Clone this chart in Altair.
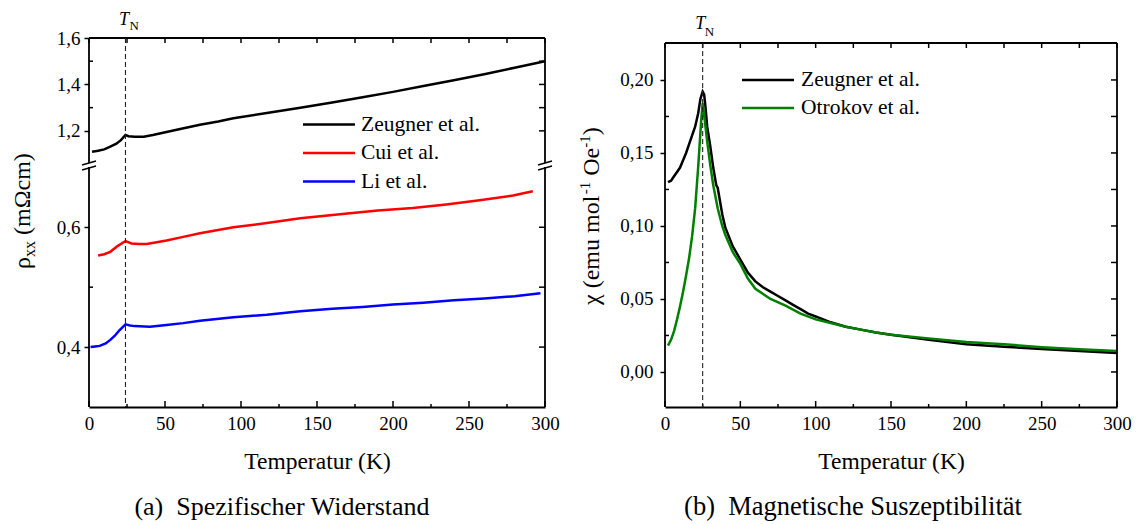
import altair as alt
import pandas as pd

# ---------------- data ----------------
# (a) resistivity rho_xx in mOhm cm vs temperature in K
zeu_rho_T = [2, 6, 10, 14, 18, 21, 24, 26, 30, 36, 42, 51, 60, 73, 85, 95, 117, 139, 160, 180, 200, 220, 240, 260, 280, 300]
zeu_rho = [1.110, 1.114, 1.120, 1.132, 1.145, 1.160, 1.182, 1.177, 1.175, 1.175, 1.182, 1.195, 1.208, 1.226, 1.240,
           1.254, 1.277, 1.300, 1.322, 1.345, 1.368, 1.393, 1.418, 1.444, 1.472, 1.500]

cui_rho_T = [6, 10, 14, 19, 24, 28, 33, 38, 51, 62, 73, 95, 117, 139, 170, 190, 213, 235, 257, 279, 292]
cui_rho = [0.553, 0.555, 0.559, 0.569, 0.577, 0.573, 0.572, 0.572, 0.578, 0.584, 0.590, 0.600, 0.607, 0.615,
           0.623, 0.628, 0.632, 0.638, 0.645, 0.653, 0.660]

li_rho_T = [1, 4, 7, 11, 14, 17, 20, 24, 27, 30, 40, 51, 62, 73, 95, 117, 139, 160, 180, 200, 220, 240, 260, 280, 297]
li_rho = [0.400, 0.401, 0.402, 0.406, 0.412, 0.419, 0.428, 0.438, 0.436, 0.435, 0.434, 0.437, 0.440, 0.444, 0.450,
          0.454, 0.460, 0.464, 0.467, 0.471, 0.474, 0.478, 0.481, 0.485, 0.490]

# (b) susceptibility chi in emu/(mol Oe) vs temperature in K
zeu_chi_T = [2, 4, 6, 8, 10, 12, 14, 16, 18, 20, 22, 23.5, 25, 26, 27, 28, 30, 32, 34, 35, 36, 38, 40, 45, 50, 55,
             60, 65, 70, 75, 80, 85, 90, 95, 100, 105, 110, 120, 130, 140, 150, 175, 200, 225, 250, 275, 300]
zeu_chi = [0.130, 0.131, 0.134, 0.137, 0.140, 0.145, 0.150, 0.156, 0.162, 0.168, 0.177, 0.187, 0.192, 0.190, 0.180,
           0.168, 0.155, 0.140, 0.128, 0.126, 0.120, 0.108, 0.099, 0.086, 0.077, 0.068, 0.062, 0.058, 0.055, 0.052,
           0.049, 0.046, 0.043, 0.040, 0.038, 0.036, 0.034, 0.031, 0.029, 0.027, 0.0255, 0.022, 0.019, 0.0172,
           0.0158, 0.0143, 0.013]

otr_chi_T = [2, 4, 6, 8, 10, 12, 14, 16, 18, 20, 22, 24, 25, 26, 28, 30, 32, 35, 38, 40, 45, 50, 55, 60, 70, 80,
             90, 100, 110, 120, 130, 140, 150, 175, 200, 225, 250, 275, 300]
otr_chi = [0.018, 0.022, 0.028, 0.036, 0.045, 0.055, 0.066, 0.078, 0.093, 0.112, 0.140, 0.172, 0.184, 0.176, 0.158,
           0.142, 0.128, 0.112, 0.100, 0.094, 0.082, 0.074, 0.064, 0.057, 0.050, 0.0455, 0.040, 0.036, 0.0335,
           0.031, 0.029, 0.027, 0.0255, 0.023, 0.0205, 0.019, 0.017, 0.0155, 0.0144]

TN_left = 24
TN_right = 25

left_names = ["Zeugner et al.", "Cui et al.", "Li et al."]
left_colors = ["#000000", "#ff0000", "#0000ff"]
right_names = ["Zeugner et al.", "Otrokov et al."]
right_colors = ["#000000", "#008000"]

x_major = [0, 50, 100, 150, 200, 250, 300]
x_minor = [25, 75, 125, 175, 225, 275]
rho_major = [0.4, 0.6, 1.2, 1.4, 1.6]
rho_minor = [0.5, 1.3, 1.5]
rho_right = [0.4, 0.5, 0.6, 1.2, 1.3, 1.4, 1.5]
chi_major = [0.0, 0.05, 0.10, 0.15, 0.20]
chi_minor = [0.025, 0.075, 0.125, 0.175]
chi_right = [0.0, 0.025, 0.05, 0.075, 0.10, 0.125, 0.15, 0.175, 0.20]

caption_a = "(a)\u00a0\u00a0Spezifischer Widerstand"
caption_b = "(b)\u00a0\u00a0Magnetische Suszeptibilität"
xtitle = "Temperatur (K)"
# y titles, split into pieces for sub/superscripts: (text, size, baseline shift)
ytitle_left = [("ρ", 24, 0), ("xx", 16, 5), ("(mΩcm)", 24, 0)]
ytitle_right = [("χ (emu mol", 24, 0), ("-1", 15, -9), ("Oe", 24, 0), ("-1", 15, -9), (")", 24, 0)]
# approximate advance (px) of each piece, including the following space
ytitle_left_w = [12, 22, 88]
ytitle_right_w = [110.7, 18.5, 28, 12.5, 8]

# ---------------- broken-axis mapping for (a) ----------------
LOW_MIN, LOW_MAX = 0.3, 0.7
GAP = 4 / 600
UP_MIN, UP_MAX = 1.06, 1.6
UP_K = 0.3875
U_TOP = LOW_MAX + GAP + (UP_MAX - UP_MIN) * UP_K


def fwd(v):
    return v if v < 1 else LOW_MAX + GAP + (v - UP_MIN) * UP_K


def brk(f):
    return (f"datum.{f} < 1 ? datum.{f} : {LOW_MAX + GAP} + (datum.{f} - {UP_MIN}) * {UP_K}")


INV = (f"datum.value < {LOW_MAX + GAP / 2} ? datum.value : "
       f"{UP_MIN} + (datum.value - {LOW_MAX + GAP}) / {UP_K}")

# ---------------- layout constants ----------------
SERIF = "Liberation Serif"
W_L, W_R = 456, 452
H = 369
H_UPPER = 125
R_OFF = 5
XDOM = [0, 300]
RHO_DOM = [LOW_MIN, U_TOP]
CHI_DOM = [-0.024, -0.024 + H / 1460]

xscale = alt.Scale(domain=XDOM, nice=False, zero=False)


def yscale(dom):
    return alt.Scale(domain=dom, nice=False, zero=False)


def long_df(series):
    rows = []
    for name, ts, vs in series:
        for t, v in zip(ts, vs):
            rows.append({"T": t, "v": v, "s": name})
    return pd.DataFrame(rows)


def lines(df, ydom, names, colors, x_axis, y_axis, broken):
    c = alt.Chart(df)
    yf = "v"
    if broken:
        c = c.transform_calculate(u=brk("v"))
        yf = "u"
    return c.mark_line(strokeWidth=2.5).encode(
        x=alt.X("T:Q", scale=xscale, axis=x_axis),
        y=alt.Y(f"{yf}:Q", scale=yscale(ydom), axis=y_axis),
        color=alt.Color("s:N", scale=alt.Scale(domain=names, range=colors), legend=None),
    )


def xticks(vals, y0, y1):
    return alt.Chart(pd.DataFrame({"tv": vals})).mark_rule(color="black", strokeWidth=1.5).encode(
        x=alt.X("tv:Q", scale=xscale), y=alt.value(y0), y2=alt.value(y1))


def yticks(vals, dom, x0, x1, broken=False):
    c = alt.Chart(pd.DataFrame({"tv": vals}))
    f = "tv"
    if broken:
        c = c.transform_calculate(tu=brk("tv"))
        f = "tu"
    return c.mark_rule(color="black", strokeWidth=1.5).encode(
        y=alt.Y(f"{f}:Q", scale=yscale(dom)), x=alt.value(x0), x2=alt.value(x1))


def seg(x0, x1, y0, y1, w=1.8):
    return alt.Chart(pd.DataFrame({"a": [0]})).mark_rule(color="black", strokeWidth=w).encode(
        x=alt.value(x0), x2=alt.value(x1), y=alt.value(y0), y2=alt.value(y1))


def tn_line(tn, y0, y1):
    return alt.Chart(pd.DataFrame({"T": [tn]})).mark_rule(
        color="#222222", strokeWidth=1.1, strokeDash=[5, 3]).encode(
        x=alt.X("T:Q", scale=xscale), y=alt.value(y0), y2=alt.value(y1))


def tn_label(tn, yT, yN, dxT, dxN):
    d = pd.DataFrame({"T": [tn]})
    t = alt.Chart(d).mark_text(text="T", font=SERIF, fontSize=18, fontStyle="italic",
                               align="center", baseline="alphabetic", dx=dxT).encode(
        x=alt.X("T:Q", scale=xscale), y=alt.value(yT))
    n = alt.Chart(d).mark_text(text="N", font=SERIF, fontSize=13,
                               align="left", baseline="alphabetic", dx=dxN).encode(
        x=alt.X("T:Q", scale=xscale), y=alt.value(yN))
    return [t, n]


def legend(names, colors, x0, x1, xt, ys):
    out = []
    for name, col, y in zip(names, colors, ys):
        d = pd.DataFrame({"s": [name]})
        out.append(alt.Chart(d).mark_rule(color=col, strokeWidth=2.5).encode(
            x=alt.value(x0), x2=alt.value(x1), y=alt.value(y)))
        out.append(alt.Chart(d).mark_text(font=SERIF, fontSize=21.5, align="left", baseline="middle",
                                          color="black").encode(
            text="s:N", x=alt.value(xt), y=alt.value(y)))
    return out


def text_at(txt, x, y, size, angle=0):
    return alt.Chart(pd.DataFrame({"t": [txt]})).mark_text(
        font=SERIF, fontSize=size, align="center", baseline="middle", angle=angle, color="black").encode(
        text="t:N", x=alt.value(x), y=alt.value(y))


def vertical_title(pieces, widths, xb, ystart):
    out = []
    y = ystart
    for (txt, size, shift), w in zip(pieces, widths):
        out.append(alt.Chart(pd.DataFrame({"t": [txt]})).mark_text(
            font=SERIF, fontSize=size, align="left", baseline="alphabetic", angle=270, color="black").encode(
            text="t:N", x=alt.value(xb + shift), y=alt.value(y)))
        y -= w
    return out


def y_axis(values, label_expr, pad):
    return alt.Axis(values=values, labelExpr=label_expr, title=None, domain=False, ticks=True,
                    tickColor="black", tickWidth=1.5, tickSize=5, labelPadding=pad, labelFont=SERIF,
                    labelFontSize=19, labelColor="black", grid=False, labelFlush=False,
                    labelOverlap=False)


x_axis_bottom = alt.Axis(title=xtitle, values=x_major, format="d", domain=True, domainColor="black",
                         domainWidth=1.8, ticks=False, labelPadding=7, labelFont=SERIF, labelFontSize=19,
                         labelColor="black", labelFlush=False, labelOverlap=False,
                         titleFont=SERIF, titleFontSize=23.5, titleFontWeight="normal",
                         titleColor="black", titlePadding=16, grid=False)

# ---------------- (a) resistivity with broken axis ----------------
df_a = long_df([(left_names[0], zeu_rho_T, zeu_rho),
                (left_names[1], cui_rho_T, cui_rho),
                (left_names[2], li_rho_T, li_rho)])
a_layers = [
    lines(df_a, RHO_DOM, left_names, left_colors, x_axis_bottom,
          y_axis([fwd(v) for v in rho_major], f"replace(format({INV}, '.1f'), '.', ',')", 4), True),
    seg(0, W_L, 0, 0),
    seg(0, 0, 0, H_UPPER), seg(0, 0, H_UPPER + 4, H),
    seg(W_L, W_L, 0, H_UPPER), seg(W_L, W_L, H_UPPER + 4, H),
    xticks(x_major + x_minor, 0, 5),
    xticks(x_major, H, H - 6),
    xticks(x_minor, H, H - 3),
    yticks(rho_minor, RHO_DOM, 0, 4, True),
    yticks(rho_right, RHO_DOM, W_L, W_L - 6, True),
    tn_line(TN_left, 0, H),
    seg(-7, 7, H_UPPER + 2, H_UPPER - 2, 1.5), seg(-7, 7, H_UPPER + 7, H_UPPER + 3, 1.5),
    seg(W_L - 7, W_L + 7, H_UPPER + 2, H_UPPER - 2, 1.5), seg(W_L - 7, W_L + 7, H_UPPER + 7, H_UPPER + 3, 1.5),
    text_at(caption_a, 193, 469, 26),
]
a_layers += vertical_title(ytitle_left, ytitle_left_w, -59, 231)
a_layers += tn_label(TN_left, -13, -8.5, -1.5, 4)
a_layers += legend(left_names, left_colors, 214, 266, 272, [86.5, 115, 143.5])
panel_a = alt.layer(*a_layers).properties(width=W_L, height=H)

# ---------------- (b) susceptibility ----------------
df_b = long_df([(right_names[0], zeu_chi_T, zeu_chi), (right_names[1], otr_chi_T, otr_chi)])
b_layers = [
    lines(df_b, CHI_DOM, right_names, right_colors, x_axis_bottom,
          y_axis(chi_major, "replace(format(datum.value, '.2f'), '.', ',')", 7), False),
    seg(0, W_R, R_OFF, R_OFF),
    seg(0, 0, R_OFF, H),
    seg(W_R, W_R, R_OFF, H),
    xticks(x_major + x_minor, R_OFF, R_OFF + 5),
    xticks(x_major, H, H - 6),
    xticks(x_minor, H, H - 3),
    yticks(chi_minor, CHI_DOM, 0, 4),
    yticks(chi_right, CHI_DOM, W_R, W_R - 6),
    tn_line(TN_right, R_OFF, H),
    text_at(caption_b, 188, 469, 26.5),
]
b_layers += vertical_title(ytitle_right, ytitle_right_w, -66, 267)
b_layers += tn_label(TN_right, -9, -2, -2.5, 2)
b_layers += legend(right_names, right_colors, 77, 129, 136, [42, 70])
panel_b = alt.layer(*b_layers).properties(width=W_R, height=H)

chart = alt.hconcat(panel_a, panel_b, spacing=120, bounds="flush").resolve_scale(
    x="independent", y="independent", color="independent").properties(
    padding={"left": 11, "top": 11, "right": 5, "bottom": 5},
    background="white",
).configure_view(stroke=None)

chart.save("out.html", embed_options={"renderer": "svg", "actions": False})
